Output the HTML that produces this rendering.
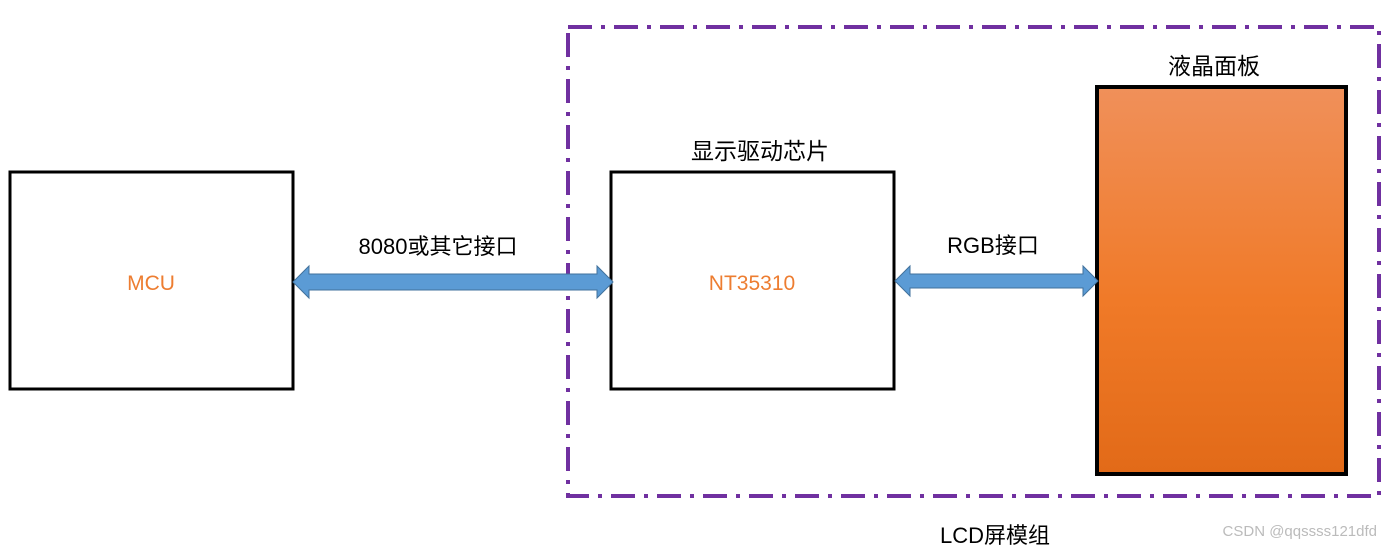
<!DOCTYPE html>
<html><head><meta charset="utf-8"><style>
body{margin:0;background:#fff;width:1391px;height:549px;overflow:hidden}
text{font-family:"Liberation Sans","Noto Sans CJK SC",sans-serif}
</style></head><body>
<svg width="1391" height="549" xmlns="http://www.w3.org/2000/svg">
<defs><linearGradient id="g" x1="0" y1="0" x2="0" y2="1">
<stop offset="0" stop-color="#f0905a"/><stop offset="0.55" stop-color="#f07a28"/><stop offset="1" stop-color="#e26a18"/></linearGradient></defs>
<rect x="568" y="27" width="811" height="469" fill="none" stroke="#7030a0" stroke-width="4" stroke-dasharray="24 9 4 9"/>
<rect x="10" y="172" width="283" height="217" fill="#fff" stroke="#000" stroke-width="3"/>
<rect x="611" y="172" width="283" height="217" fill="#fff" stroke="#000" stroke-width="3"/>
<rect x="1097" y="87" width="249" height="387" fill="url(#g)" stroke="#000" stroke-width="4"/>
<polygon points="293,282 309,266 309,274 597,274 597,266 613,282 597,298 597,290 309,290 309,298" fill="#5b9bd5" stroke="#41719c" stroke-width="1"/>
<polygon points="895,281 910,266 910,274 1083,274 1083,266 1098,281 1083,296 1083,288 910,288 910,296" fill="#5b9bd5" stroke="#41719c" stroke-width="1"/>
<text x="151" y="290" font-size="21" fill="#ed7d31" text-anchor="middle">MCU</text>
<text x="752" y="290" font-size="21" fill="#ed7d31" text-anchor="middle">NT35310</text>
<text x="438" y="254" font-size="22" fill="#000" text-anchor="middle">8080或其它接口</text>
<text x="993" y="253" font-size="22" fill="#000" text-anchor="middle">RGB接口</text>
<text x="760" y="159" font-size="23" fill="#000" text-anchor="middle">显示驱动芯片</text>
<text x="1214" y="74" font-size="23" fill="#000" text-anchor="middle">液晶面板</text>
<text x="995" y="543" font-size="22" fill="#000" text-anchor="middle">LCD屏模组</text>
<text x="1377" y="536" font-size="15" fill="#bbb" text-anchor="end">CSDN @qqssss121dfd</text>
</svg>
</body></html>
